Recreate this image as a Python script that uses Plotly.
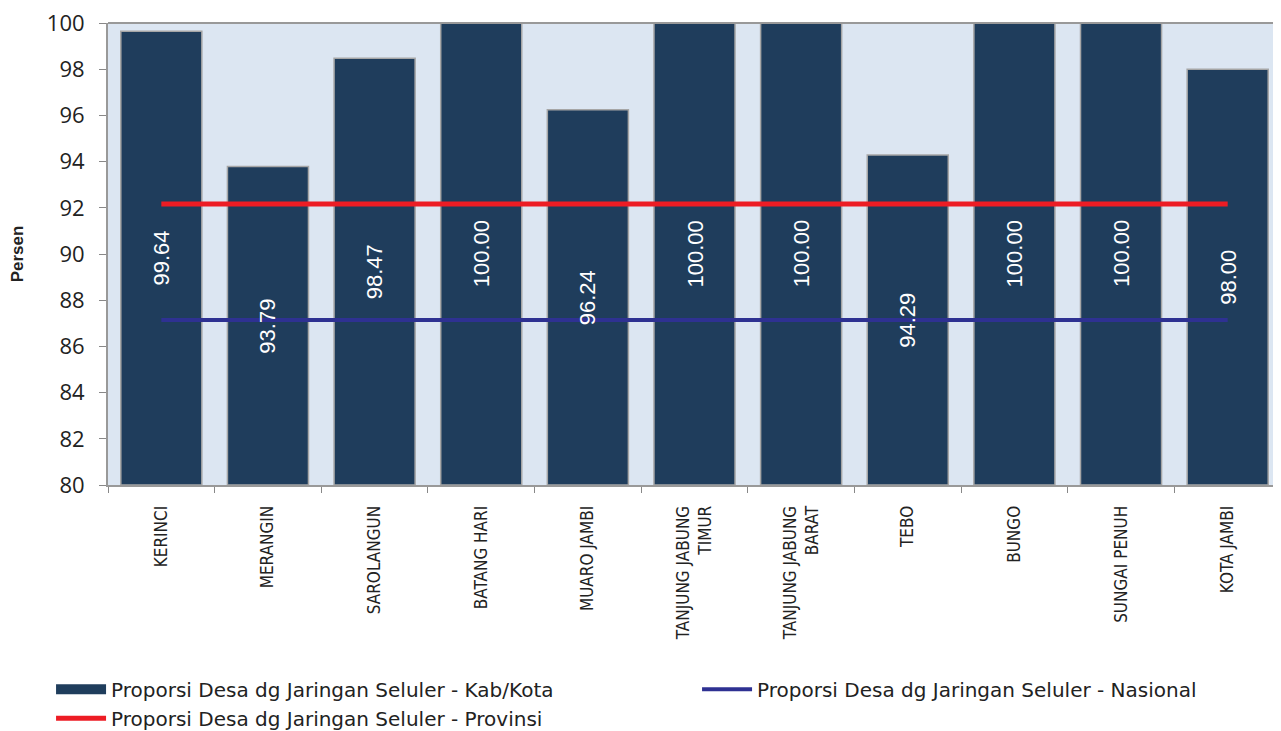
import plotly.graph_objects as go

categories = ["KERINCI", "MERANGIN", "SAROLANGUN", "BATANG HARI", "MUARO JAMBI",
              "TANJUNG JABUNG<br>TIMUR", "TANJUNG JABUNG<br>BARAT", "TEBO", "BUNGO",
              "SUNGAI PENUH", "KOTA JAMBI"]
kab_kota = [99.64, 93.79, 98.47, 100.00, 96.24, 100.00, 100.00, 94.29, 100.00, 100.00, 98.00]
nasional_value = 87.14
provinsi_value = 92.16
nasional = [nasional_value] * len(categories)
provinsi = [provinsi_value] * len(categories)
y_ticks = [80, 82, 84, 86, 88, 90, 92, 94, 96, 98, 100]
axis_base = 80

BAR_COLOR = "#1F3D5C"

fig = go.Figure()
fig.add_trace(go.Bar(
    x=categories, y=[v - axis_base for v in kab_kota], base=axis_base,
    name="Proporsi Desa dg Jaringan Seluler - Kab/Kota", showlegend=False,
    marker=dict(color=BAR_COLOR, line=dict(color="#A6A6A6", width=1.5)),
    width=0.76,
    hovertext=[f"{v:.2f}" for v in kab_kota], hoverinfo="x+text",
))
# legend entry for the bar series (wide swatch like the reference)
fig.add_trace(go.Scatter(
    x=[None], y=[None], mode="lines",
    name="Proporsi Desa dg Jaringan Seluler - Kab/Kota",
    line=dict(color=BAR_COLOR, width=10),
))
fig.add_trace(go.Scatter(
    x=categories, y=nasional, mode="lines",
    name="Proporsi Desa dg Jaringan Seluler - Nasional",
    line=dict(color="#2E3192", width=4),
))
fig.add_trace(go.Scatter(
    x=categories, y=provinsi, mode="lines",
    name="Proporsi Desa dg Jaringan Seluler - Provinsi",
    line=dict(color="#ED1C24", width=5),
))

# value labels (drawn above the lines, centred in each bar)
for cat, v in zip(categories, kab_kota):
    fig.add_annotation(
        x=cat, y=(axis_base + v) / 2, xref="x", yref="y",
        text=f"{v:.2f}", showarrow=False, textangle=-90,
        font=dict(family="Liberation Sans, Arial", size=22, color="white"),
    )

fig.update_layout(
    width=1400, height=760,
    margin=dict(l=100, r=127, t=15, b=283),
    plot_bgcolor="#DCE6F2", paper_bgcolor="white",
    font=dict(family="DejaVu Sans", color="#222222"),
    showlegend=True,
    legend=dict(orientation="h", x=1.0529, y=-0.400, xanchor="right", yanchor="top",
                entrywidth=581, entrywidthmode="pixels", traceorder="normal",
                font=dict(size=20, family="DejaVu Sans", color="#222222"),
                tracegroupgap=0, itemwidth=50),
    bargap=0.24,
)
fig.update_yaxes(
    range=[80, 100], tickvals=y_ticks, ticks="outside", ticklen=7, tickcolor="#888888",
    showline=True, linecolor="#999999", linewidth=2, showgrid=False, zeroline=False,
    tickfont=dict(size=22, family="Open Sans", color="#222222"), ticklabelstandoff=10,
    ticklabeloverflow="allow",
    title=dict(text="<b>Persen</b>", font=dict(size=17, family="Liberation Sans", color="#222222"), standoff=36),
    automargin=False,
)
fig.update_xaxes(
    tickangle=-90, ticks="outside", ticklen=6, tickcolor="#888888", tickson="boundaries",
    showline=True, linecolor="#999999", linewidth=2, showgrid=False,
    tickfont=dict(size=17, family="DejaVu Sans Condensed, DejaVu Sans", color="#222222"),
    ticklabelstandoff=12,
    automargin=False,
)
fig.add_shape(type="line", xref="paper", yref="paper", x0=0, x1=1, y0=1, y1=1,
              line=dict(color="#999999", width=2))

fig.write_html("out.html")
